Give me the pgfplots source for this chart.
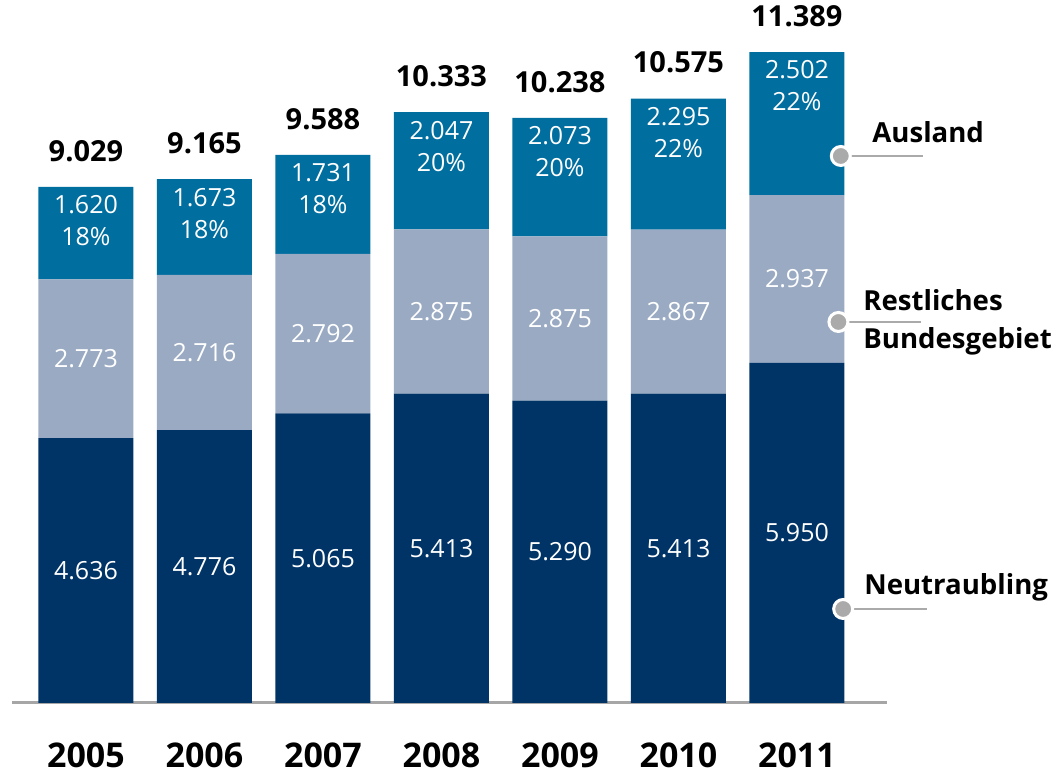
\documentclass[border=0pt]{standalone}
\usepackage{pgfplots}
\pgfplotsset{compat=1.18}
\usepackage{pgfplotstable}
\usepackage{fontspec}
\setmainfont{Open Sans}

\definecolor{navy}{HTML}{003366}
\definecolor{greyblue}{HTML}{9AAAC3}
\definecolor{ausblue}{HTML}{006E9F}
\definecolor{dotgrey}{HTML}{AAAAAA}
\definecolor{basegrey}{HTML}{A6A6A6}

\pgfkeys{/pgf/number format/.cd, 1000 sep={.}, assume math mode=true}

% n = Neutraubling, r = Restliches Bundesgebiet, a = Ausland
\pgfplotstableread{
x year n    r    a    pct total
0 2005 4636 2773 1620 18  9029
1 2006 4776 2716 1673 18  9165
2 2007 5065 2792 1731 18  9588
3 2008 5413 2875 2047 20  10333
4 2009 5290 2875 2073 20  10238
5 2010 5413 2867 2295 22  10575
6 2011 5950 2937 2502 22  11389
}\data

\pgfplotsset{frame/.style={
    at={(0,0)}, anchor=south west,
    scale only axis,
    width=437.5pt, height=351.5pt,
    xmin=-0.624, xmax=6.76,
    ymin=0, ymax=12299,
    enlargelimits=false,
    clip=false}}

\begin{document}
\begin{tikzpicture}[font=\fontsize{12.5}{16}\selectfont]
\begin{axis}[
    frame,
    ybar stacked,
    bar width=47.5pt,
    axis x line=bottom,
    axis y line=none,
    axis line style={draw=basegrey, line width=1.5pt, -},
    xtick={0,...,6},
    xticklabels from table={\data}{year},
    ytick=\empty,
    major tick length=0pt,
    xticklabel style={font=\fontsize{17}{20}\selectfont\bfseries, anchor=base, yshift=-32pt},
]

% Neutraubling
\addplot[fill=navy, draw=none,
    nodes near coords, point meta=explicit,
    every node near coord/.style={anchor=center, text=white}]
    table[x=x, y=n, meta=n] {\data};

% Restliches Bundesgebiet
\addplot[fill=greyblue, draw=none,
    nodes near coords, point meta=explicit,
    every node near coord/.style={anchor=center, text=white}]
    table[x=x, y=r, meta=r] {\data};

% Ausland
\addplot[fill=ausblue, draw=none,
    nodes near coords={\pgfmathprintnumber{\pgfplotspointmeta}\\\pgfmathprintnumber{\pct}\%},
    point meta=explicit,
    visualization depends on={\thisrow{pct} \as \pct},
    visualization depends on={\thisrow{a} \as \seg},
    every node near coord/.style={anchor=center, align=center, text=white,
        yshift={0.01429pt*\seg-17pt}}]
    table[x=x, y=a, meta=a] {\data};

% anchor points of the series labels
\coordinate (dA) at (axis cs:6.37,9570);
\coordinate (eA) at (axis cs:7.06,9570);
\coordinate (tA) at (axis cs:6.633,9990);
\coordinate (dR) at (axis cs:6.35,6666);
\coordinate (eR) at (axis cs:7.05,6666);
\coordinate (tR) at (axis cs:6.557,6666);
\coordinate (dN) at (axis cs:6.39,1645);
\coordinate (eN) at (axis cs:7.10,1645);
\coordinate (tN) at (axis cs:6.565,2029);
\end{axis}

% totals above the bars
\begin{axis}[frame, hide axis]
\addplot[only marks, mark=none,
    nodes near coords, point meta=explicit,
    every node near coord/.style={anchor=center, text=black,
        font=\fontsize{14.5}{17}\selectfont\bfseries, yshift=18pt}]
    table[x=x, y=total, meta=total] {\data};
\end{axis}

\foreach \s in {A,R,N} {
  \draw[dotgrey, line width=1.2pt] (d\s) -- (e\s);
  \filldraw[fill=dotgrey, draw=white, line width=1.5pt] (d\s) circle[radius=4.75pt];
}
\begin{scope}[every node/.style={anchor=west, inner sep=0pt, align=left,
    font=\fontsize{13.8}{19}\selectfont\bfseries}]
\node at (tA) {Ausland};
\node at (tR) {Restliches\\Bundesgebiet};
\node at (tN) {Neutraubling};
\end{scope}

\pgfresetboundingbox
\useasboundingbox (-6pt,-38.5pt) rectangle (523pt,351.5pt);
\end{tikzpicture}
\end{document}
